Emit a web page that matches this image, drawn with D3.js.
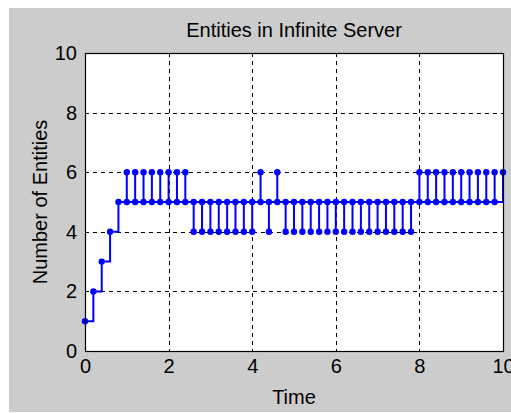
<!DOCTYPE html>
<html>
<head>
<meta charset="utf-8">
<script src="https://cdn.jsdelivr.net/npm/d3@7"></script>
<style>
  body { margin: 0; background: #fff; }
  svg text { font-family: "Liberation Sans", Arial, sans-serif; fill: #000; }
</style>
</head>
<body>
<svg id="chart"></svg>
<script>
// event log of the infinite server: time of each sample and entity count after it
var eventTime = [
  0, 0.2, 0.4, 0.6, 0.8,
  1.0, 1.0, 1.2, 1.2, 1.4, 1.4, 1.6, 1.6, 1.8, 1.8, 2.0, 2.0, 2.2, 2.2, 2.4, 2.4,
  2.6, 2.6, 2.8, 2.8, 3.0, 3.0, 3.2, 3.2, 3.4, 3.4, 3.6, 3.6, 3.8, 3.8, 4.0, 4.0,
  4.2, 4.2, 4.4, 4.4, 4.6, 4.6,
  4.8, 4.8, 5.0, 5.0, 5.2, 5.2, 5.4, 5.4, 5.6, 5.6, 5.8, 5.8, 6.0, 6.0, 6.2, 6.2,
  6.4, 6.4, 6.6, 6.6, 6.8, 6.8, 7.0, 7.0, 7.2, 7.2, 7.4, 7.4, 7.6, 7.6, 7.8, 7.8,
  8.0, 8.0, 8.2, 8.2, 8.4, 8.4, 8.6, 8.6, 8.8, 8.8, 9.0, 9.0, 9.2, 9.2, 9.4, 9.4,
  9.6, 9.6, 9.8, 9.8,
  10.0
];
var entityCount = [
  1, 2, 3, 4, 5,
  6, 5, 6, 5, 6, 5, 6, 5, 6, 5, 6, 5, 6, 5, 6, 5,
  4, 5, 4, 5, 4, 5, 4, 5, 4, 5, 4, 5, 4, 5, 4, 5,
  6, 5, 4, 5, 6, 5,
  4, 5, 4, 5, 4, 5, 4, 5, 4, 5, 4, 5, 4, 5, 4, 5,
  4, 5, 4, 5, 4, 5, 4, 5, 4, 5, 4, 5, 4, 5, 4, 5,
  6, 5, 6, 5, 6, 5, 6, 5, 6, 5, 6, 5, 6, 5, 6, 5,
  6, 5, 6, 5,
  6
];
var xTicks = [0, 2, 4, 6, 8, 10];
var yTicks = [0, 2, 4, 6, 8, 10];
var title = "Entities in Infinite Server";
var xLabel = "Time";
var yLabel = "Number of Entities";

var width = 511, height = 413;
var marginTop = 53, marginRight = 8, marginBottom = 62, marginLeft = 85;

var data = d3.range(eventTime.length).map(i => ({t: eventTime[i], n: entityCount[i]}));

var svg = d3.select("#chart")
    .attr("width", width)
    .attr("height", height);

// grey figure background
svg.append("rect")
    .attr("x", 9).attr("y", 8)
    .attr("width", width - 9).attr("height", height - 9)
    .attr("fill", "#cccccc");

var x = d3.scaleLinear([0, 10], [marginLeft, width - marginRight]);
var y = d3.scaleLinear([0, 10], [height - marginBottom, marginTop]);

svg.append("rect")
    .attr("x", x(0)).attr("y", y(10))
    .attr("width", x(10) - x(0)).attr("height", y(0) - y(10))
    .attr("fill", "#fff");

// dashed grid
svg.append("g")
    .attr("stroke", "#000")
    .attr("stroke-dasharray", "4,4")
    .attr("stroke-width", 1)
    .call(g => g.selectAll(".gx").data(xTicks.slice(1, -1)).join("line")
        .attr("x1", d => Math.round(x(d)) + 0.5).attr("x2", d => Math.round(x(d)) + 0.5)
        .attr("y1", y(10)).attr("y2", y(0)))
    .call(g => g.selectAll(".gy").data(yTicks.slice(1, -1)).join("line")
        .attr("x1", x(0)).attr("x2", x(10))
        .attr("y1", d => Math.round(y(d)) + 0.5).attr("y2", d => Math.round(y(d)) + 0.5));

var line = d3.line()
    .curve(d3.curveStepAfter)
    .x(d => x(d.t))
    .y(d => y(d.n));

svg.append("path")
    .datum(data)
    .attr("fill", "none")
    .attr("stroke", "#0000ff")
    .attr("stroke-width", 2)
    .attr("d", line);

svg.append("g")
    .attr("fill", "#0000ff")
    .selectAll("circle")
    .data(data)
    .join("circle")
      .attr("cx", d => x(d.t))
      .attr("cy", d => y(d.n))
      .attr("r", 3.2);

// axes box
svg.append("rect")
    .attr("x", x(0) + 0.5).attr("y", y(10) + 0.5)
    .attr("width", x(10) - x(0)).attr("height", y(0) - y(10))
    .attr("fill", "none")
    .attr("stroke", "#000")
    .attr("stroke-width", 1.2);

var xAxis = d3.axisBottom(x).tickValues(xTicks).tickSize(0).tickPadding(8).tickFormat(d3.format("d"));
var yAxis = d3.axisLeft(y).tickValues(yTicks).tickSize(0).tickPadding(8).tickFormat(d3.format("d"));

svg.append("g")
    .attr("transform", `translate(0,${y(0)})`)
    .call(xAxis)
    .call(g => g.select(".domain").remove())
    .call(g => g.selectAll("text").attr("font-size", 20).attr("font-family", null));

svg.append("g")
    .attr("transform", `translate(${x(0)},0)`)
    .call(yAxis)
    .call(g => g.select(".domain").remove())
    .call(g => g.selectAll("text").attr("font-size", 20).attr("font-family", null));

svg.append("text")
    .attr("x", (x(0) + x(10)) / 2)
    .attr("y", 37)
    .attr("text-anchor", "middle")
    .attr("font-size", 20)
    .text(title);

svg.append("text")
    .attr("x", (x(0) + x(10)) / 2)
    .attr("y", 404)
    .attr("text-anchor", "middle")
    .attr("font-size", 20)
    .text(xLabel);

svg.append("text")
    .attr("transform", `translate(47,${(y(0) + y(10)) / 2}) rotate(-90)`)
    .attr("text-anchor", "middle")
    .attr("font-size", 20)
    .text(yLabel);
</script>
</body>
</html>
